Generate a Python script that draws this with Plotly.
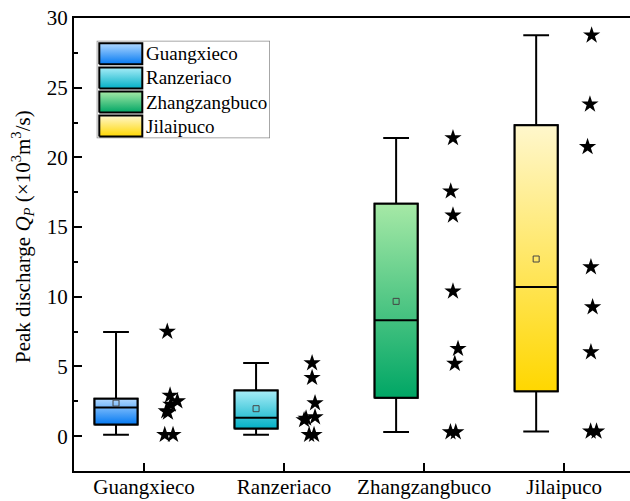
import plotly.graph_objects as go

# ---------------- data ----------------
categories = ["Guangxieco", "Ranzeriaco", "Zhangzangbuco", "Jilaipuco"]

q1 = [0.84, 0.55, 2.76, 3.23]
median = [2.06, 1.32, 8.31, 10.70]
q3 = [2.68, 3.28, 16.68, 22.30]
lower = [0.10, 0.10, 0.29, 0.34]
upper = [7.47, 5.24, 21.39, 28.76]
means = [2.37, 1.97, 9.67, 12.71]

pts_guangxieco = [7.50, 2.92, 2.51, 2.27, 1.80, 1.70, 0.10, 0.10]
pts_ranzeriaco = [5.24, 4.19, 2.37, 1.37, 1.16, 1.27, 0.10, 0.10]
pts_zhangzangbuco = [21.39, 17.57, 15.84, 10.39, 6.27, 5.20, 0.29, 0.29]
pts_jilaipuco = [28.76, 23.81, 20.75, 12.13, 9.26, 6.03, 0.34, 0.34]
points = [pts_guangxieco, pts_ranzeriaco, pts_zhangzangbuco, pts_jilaipuco]

y_ticks = [0, 5, 10, 15, 20, 25, 30]

# ---------------- style ----------------
light = ["#b0d8ff", "#a8edf8", "#a6e9a6", "#fff7cc"]
dark = ["#0479f2", "#03b0c6", "#00a665", "#ffd700"]
box_offset = -0.2
star_offset = 0.2
box_w = 0.307
# small horizontal scatter of the stars (presentation only)
star_jitter = [
    [-0.034, -0.014, 0.038, -0.009, -0.041, -0.029, -0.052, 0.007],
    [0.0, 0.0, 0.021, 0.021, -0.057, -0.043, -0.021, 0.014],
    [0.006, -0.010, 0.006, 0.006, 0.042, 0.019, -0.012, 0.026],
    [-0.004, -0.016, -0.033, -0.009, 0.003, -0.009, -0.011, 0.031],
]
FONT = "Liberation Serif"

fig = go.Figure()

# whiskers and caps (box statistics)
for i, c in enumerate(categories):
    fig.add_trace(go.Box(
        x=[i + box_offset], q1=[q1[i]], median=[median[i]], q3=[q3[i]],
        lowerfence=[lower[i]], upperfence=[upper[i]],
        width=box_w, whiskerwidth=0.6, boxpoints=False,
        line=dict(color="black", width=2), fillcolor="rgba(0,0,0,0)",
        name=c, showlegend=False))

# gradient-filled box bodies with outline
for i, c in enumerate(categories):
    xc = i + box_offset
    x0, x1 = xc - box_w / 2, xc + box_w / 2
    fig.add_trace(go.Scatter(
        x=[x0, x1, x1, x0, x0], y=[q1[i], q1[i], q3[i], q3[i], q1[i]],
        mode="lines", fill="toself", line=dict(width=2, color="black"),
        fillgradient=dict(type="vertical", colorscale=[[0, dark[i]], [1, light[i]]]),
        hoverinfo="skip", showlegend=False))
    fig.add_trace(go.Scatter(
        x=[x0, x1], y=[median[i], median[i]], mode="lines",
        line=dict(width=2, color="black"), hoverinfo="skip", showlegend=False))

# mean markers
fig.add_trace(go.Scatter(
    x=[i + box_offset for i in range(len(categories))], y=means, mode="markers",
    marker=dict(symbol="square-open", size=6, color="#444444", line=dict(width=1)),
    showlegend=False, hoverinfo="y"))

# data points (stars)
for i, c in enumerate(categories):
    fig.add_trace(go.Scatter(
        x=[i + star_offset + j for j in star_jitter[i]], y=points[i], mode="markers",
        marker=dict(symbol="star", size=13, color="black", line=dict(width=0)),
        showlegend=False, name=c))

# custom legend on auxiliary axes (pixel-like coordinates)
leg_left, leg_right, leg_top, leg_bottom = 96.7, 270.0, 40.7, 138.3
sw_x0, sw_x1, sw_top0, sw_h, pitch = 99.3, 142.3, 43.3, 21.0, 24.1
for k, c in enumerate(categories):
    t = sw_top0 + pitch * k
    b = t + sw_h
    fig.add_trace(go.Scatter(
        x=[sw_x0, sw_x1, sw_x1, sw_x0, sw_x0], y=[-b, -b, -t, -t, -b],
        xaxis="x2", yaxis="y2", mode="lines", fill="toself",
        line=dict(color="black", width=2),
        fillgradient=dict(type="vertical", colorscale=[[0, dark[k]], [1, light[k]]]),
        hoverinfo="skip", showlegend=False))
    fig.add_annotation(x=sw_x1 + 3, y=-(t + sw_h / 2), xref="x2", yref="y2",
                       text=c, showarrow=False, xanchor="left", yanchor="middle",
                       borderpad=0,
                       font=dict(family=FONT, size=19, color="black"))

fig.add_shape(type="rect", xref="x2", yref="y2", x0=leg_left, x1=leg_right,
              y0=-leg_bottom, y1=-leg_top, line=dict(color="#8a8a8a", width=1.5),
              fillcolor="white", layer="below")

W, H = 630, 501
ml, mr, mt, mb = 74, 0, 18, 30
pw, ph = W - ml - mr, H - mt - mb

fig.update_layout(
    template="none",
    width=W, height=H,
    margin=dict(l=ml, r=mr, t=mt, b=mb, pad=0, autoexpand=False),
    paper_bgcolor="white", plot_bgcolor="white",
    font=dict(family=FONT, size=20, color="black"),
    showlegend=False,
    xaxis=dict(range=[-0.5, 3.47], tickmode="array", automargin=False,
               tickvals=list(range(len(categories))), ticktext=categories,
               ticks="inside", ticklen=8, tickwidth=2, tickcolor="black",
               showline=True, linewidth=2, linecolor="black", mirror=True,
               showgrid=False, zeroline=False, ticklabelstandoff=-4,
               tickfont=dict(family=FONT, size=21)),
    yaxis=dict(range=[-2.5, 30], tickmode="array", tickvals=y_ticks,
               automargin=False,
               ticks="inside", ticklen=8, tickwidth=2, tickcolor="black",
               minor=dict(dtick=2.5, tick0=0, ticks="inside", ticklen=4,
                          tickwidth=2, tickcolor="black", showgrid=False),
               showline=True, linewidth=2, linecolor="black",
               showgrid=False, zeroline=False,
               tickfont=dict(family=FONT, size=21)),
    xaxis2=dict(domain=[(leg_left - ml) / pw, (leg_right - ml) / pw],
                range=[leg_left, leg_right], visible=False, anchor="y2",
                fixedrange=True, automargin=False),
    yaxis2=dict(domain=[(H - mb - leg_bottom) / ph, (H - mb - leg_top) / ph],
                range=[-leg_bottom, -leg_top], visible=False, anchor="x2",
                fixedrange=True, automargin=False),
)

fig.add_annotation(
    text="Peak discharge <i>Q</i><sub><i>P</i></sub> (×10<sup>3</sup>m<sup>3</sup>/s)",
    xref="paper", yref="paper", x=(22 - ml) / pw, y=(H - mb - 237) / ph,
    xanchor="center", yanchor="middle", textangle=-90, showarrow=False,
    font=dict(family=FONT, size=21, color="black"))

fig.write_html("out.html", config={"displayModeBar": False},
               post_script="document.body.style.margin='0';document.body.style.padding='0';")
